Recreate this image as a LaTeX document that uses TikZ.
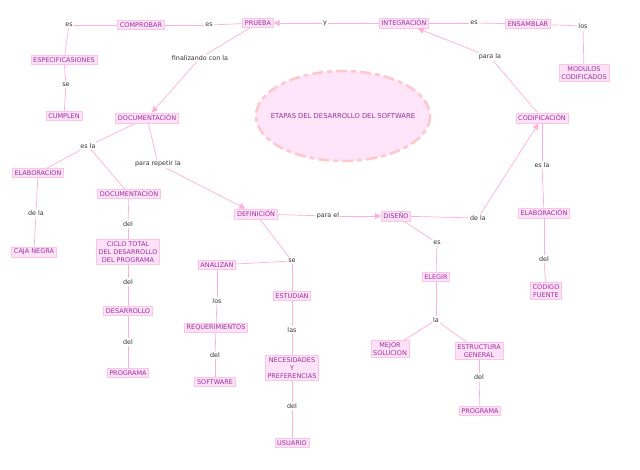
\documentclass[tikz,border=0pt]{standalone}
\usepackage{fontspec}
\setmainfont{DejaVu Sans}
\usetikzlibrary{arrows.meta,shapes.geometric}
\definecolor{cfill}{HTML}{FFE2F8}
\definecolor{cbord}{HTML}{FFC4E4}
\definecolor{ctext}{HTML}{9A2FA0}
\definecolor{lcol}{HTML}{FFB0DA}
\definecolor{ebord}{HTML}{FFC8CC}
\definecolor{efill}{HTML}{FFE4FA}
\definecolor{ltext}{HTML}{333333}
\tikzset{
  concept/.style={draw=cbord, fill=cfill, text=ctext, line width=0.8pt,
    font=\fontsize{6.5}{8}\selectfont, inner xsep=2.2pt, inner ysep=2pt, align=center},
  lab/.style={fill=white, text=ltext, font=\fontsize{6.4}{7}\selectfont, inner sep=1pt},
  conn/.style={draw=lcol, line width=0.7pt},
  arr/.style={conn, -{Triangle[length=6pt,width=6pt]}}
}
\begin{document}
\begin{tikzpicture}[x=1pt,y=-1pt]
\useasboundingbox (0,0) rectangle (640,469);
% center ellipse
\draw[draw=ebord, fill=efill, line width=2.6pt, dash pattern=on 11pt off 4pt on 5pt off 4pt]
  (343,116) ellipse [x radius=87, y radius=45];
\node[text=ctext, font=\fontsize{6.8}{8}\selectfont, inner sep=0pt] (main) at (343,116) {ETAPAS DEL DESARROLLO DEL SOFTWARE};
% concepts
\node[concept] (comprobar) at (141,25) {COMPROBAR};
\node[concept] (prueba) at (258,23) {PRUEBA};
\node[concept] (integ) at (404,23) {INTEGRACIÓN};
\node[concept] (ensamblar) at (528,24) {ENSAMBLAR};
\node[concept] (modulos) at (584,73) {MODULOS\\CODIFICADOS};
\node[concept] (codif) at (542,118) {CODIFICACIÓN};
\node[concept] (espec) at (64,60) {ESPECIFICASIONES};
\node[concept] (cumplen) at (64,116) {CUMPLEN};
\node[concept] (docu) at (147,118) {DOCUMENTACIÓN};
\node[concept] (elab1) at (38,173) {ELABORACION};
\node[concept] (docu2) at (129,194) {DOCUMENTACION};
\node[concept] (caja) at (34,252) {CAJA NEGRA};
\node[concept] (ciclo) at (128,252) {CICLO TOTAL\\DEL DESARROLLO\\DEL PROGRAMA};
\node[concept] (desarr) at (128,311) {DESARROLLO};
\node[concept] (prog1) at (128,373) {PROGRAMA};
\node[concept] (defin) at (256,214) {DEFINICIÓN};
\node[concept] (diseno) at (396,216) {DISEÑO};
\node[concept] (elab2) at (544,213) {ELABORACIÓN};
\node[concept] (codigo) at (546,291) {CODIGO\\FUENTE};
\node[concept] (elegir) at (436,277) {ELEGIR};
\node[concept] (mejor) at (390,349) {MEJOR\\SOLUCION};
\node[concept] (estruct) at (479,351) {ESTRUCTURA\\GENERAL};
\node[concept] (prog2) at (480,411) {PROGRAMA};
\node[concept] (analizan) at (217,265) {ANALIZAN};
\node[concept] (estudian) at (292,296) {ESTUDIAN};
\node[concept] (requer) at (216,328) {REQUERIMIENTOS};
\node[concept] (software) at (215,382) {SOFTWARE};
\node[concept] (necesid) at (292,368) {NECESIDADES\\Y\\PREFERENCIAS};
\node[concept] (usuario) at (292,443) {USUARIO};
% labels
\node[lab] (l1) at (69,25) {es};
\node[lab] (l2) at (209,25) {es};
\node[lab] (l3) at (325,23) {y};
\node[lab] (l4) at (474,23) {es};
\node[lab] (l5) at (583,26) {los};
\node[lab] (l6) at (490,57) {para la};
\node[lab] (l7) at (66,85) {se};
\node[lab] (l8) at (200,58) {finalizando con la};
\node[lab] (l9) at (88,146) {es la};
\node[lab] (l10) at (158,164) {para repetir la};
\node[lab] (l11) at (36,213) {de la};
\node[lab] (l12) at (128,224) {del};
\node[lab] (l13) at (128,282) {del};
\node[lab] (l14) at (128,342) {del};
\node[lab] (l15) at (328,216) {para el};
\node[lab] (l16) at (478,218) {de la};
\node[lab] (l17) at (542,165) {es la};
\node[lab] (l18) at (544,259) {del};
\node[lab] (l19) at (437,243) {es};
\node[lab] (l20) at (436,320) {la};
\node[lab] (l21) at (479,377) {del};
\node[lab] (l22) at (292,261) {se};
\node[lab] (l23) at (217,301) {los};
\node[lab] (l24) at (215,355) {del};
\node[lab] (l25) at (292,330) {las};
\node[lab] (l26) at (292,406) {del};
% connectors
\draw[conn] (prueba) -- (l2);
\draw[conn] (l2) -- (comprobar);
\draw[conn] (comprobar) -- (l1);
\draw[conn] (l1) -- (espec);
\draw[conn] (espec) -- (l7);
\draw[conn] (l7) -- (cumplen);
\draw[conn] (integ) -- (l3);
\draw[arr] (l3) -- (prueba);
\draw[conn] (integ) -- (l4);
\draw[conn] (l4) -- (ensamblar);
\draw[conn] (ensamblar) -- (l5);
\draw[conn] (l5) -- (modulos);
\draw[conn] (codif) -- (l6);
\draw[arr] (l6) -- (integ);
\draw[conn] (prueba) -- (l8);
\draw[arr] (l8) -- (docu);
\draw[conn] (docu) -- (l9);
\draw[conn] (l9) -- (elab1);
\draw[conn] (l9) -- (docu2);
\draw[conn] (docu) -- (l10);
\draw[arr] (l10) -- (defin);
\draw[conn] (elab1) -- (l11);
\draw[conn] (l11) -- (caja);
\draw[conn] (docu2) -- (l12);
\draw[conn] (l12) -- (ciclo);
\draw[conn] (ciclo) -- (l13);
\draw[conn] (l13) -- (desarr);
\draw[conn] (desarr) -- (l14);
\draw[conn] (l14) -- (prog1);
\draw[conn] (defin) -- (l15);
\draw[arr] (l15) -- (diseno);
\draw[conn] (diseno) -- (l16);
\draw[arr] (l16) -- (codif);
\draw[conn] (codif) -- (l17);
\draw[conn] (l17) -- (elab2);
\draw[conn] (elab2) -- (l18);
\draw[conn] (l18) -- (codigo);
\draw[conn] (diseno) -- (l19);
\draw[conn] (l19) -- (elegir);
\draw[conn] (elegir) -- (l20);
\draw[conn] (l20) -- (mejor);
\draw[conn] (l20) -- (estruct);
\draw[conn] (estruct) -- (l21);
\draw[conn] (l21) -- (prog2);
\draw[conn] (defin) -- (l22);
\draw[conn] (l22) -- (analizan);
\draw[conn] (l22) -- (estudian);
\draw[conn] (analizan) -- (l23);
\draw[conn] (l23) -- (requer);
\draw[conn] (requer) -- (l24);
\draw[conn] (l24) -- (software);
\draw[conn] (estudian) -- (l25);
\draw[conn] (l25) -- (necesid);
\draw[conn] (necesid) -- (l26);
\draw[conn] (l26) -- (usuario);
\end{tikzpicture}
\end{document}
